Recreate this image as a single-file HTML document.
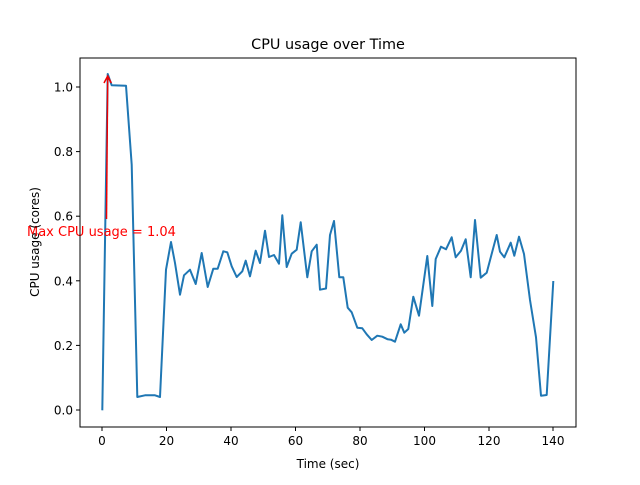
<!DOCTYPE html>
<html><head><style>body{margin:0;background:#fff}</style></head><body>
<svg width="640" height="480" xmlns="http://www.w3.org/2000/svg" font-family="DejaVu Sans, sans-serif">
<rect width="640" height="480" fill="#fff"/>
<text x="328" y="49" font-size="14.4" text-anchor="middle">CPU usage over Time</text>
<polyline fill="none" stroke="#1f77b4" stroke-width="2" stroke-linejoin="round" points="102.3,410.3 107.7,74 111.7,85.3 126,85.7 131.7,164.7 137.3,397 145,395.3 155,395.3 160,397 166,269.7 171,242 175,263 180,294.7 184,275.3 190,269.7 195.7,284 201.7,253 207.7,287 213.3,268.7 217.7,268.7 223.3,251.3 227.3,252.3 231.7,266.3 236.7,277 242.3,271.3 245.7,260.7 250,276.3 255.7,250.7 260,263 265,230.7 269,257 274,255 279,263.7 282.3,215.3 286.7,267 291.7,253.7 296.7,249.7 300.7,222.3 307.3,277.3 311.7,251.3 316.7,244.7 320,289.7 326,288.5 330,235 334,221 339.3,277.3 343.3,277.3 347.7,307.7 351.7,312.3 357.3,327.7 362.3,328.3 366.7,334.3 371.7,340 377.3,335.7 382.3,336.7 387.7,339.3 391,339.7 395,341.7 400.7,324.3 404.3,332.7 408.3,329 413.3,296.7 419,315.7 427.3,256 432.3,306 435.7,259 441,246.7 446,249.3 451.7,237.3 455.7,257.3 461,250.7 465.7,239.3 470.7,277.3 475,220 480.7,277.7 486.7,272.7 496.7,235 500,251.7 504.3,257.3 510.7,242.7 514.3,255.7 519,236.7 524,254 530,300 536,337.3 541,395.7 546.7,395 553.3,281"/>
<line x1="106.5" y1="219" x2="107.7" y2="77" stroke="#e00" stroke-width="1.5"/>
<polyline points="104,83 107.7,76 111.3,83" fill="none" stroke="#e00" stroke-width="1.5"/>
<text x="27" y="236" font-size="13" fill="#f00">Max CPU usage = 1.04</text>
<rect x="80" y="58" width="496" height="369" fill="none" stroke="#000" stroke-width="1"/>
<g font-size="12" text-anchor="middle">
<g stroke="#000"><line x1="102" y1="427" x2="102" y2="431"/><line x1="166.5" y1="427" x2="166.5" y2="431"/><line x1="231" y1="427" x2="231" y2="431"/><line x1="295.5" y1="427" x2="295.5" y2="431"/><line x1="360" y1="427" x2="360" y2="431"/><line x1="424.5" y1="427" x2="424.5" y2="431"/><line x1="489" y1="427" x2="489" y2="431"/><line x1="553" y1="427" x2="553" y2="431"/></g>
<text x="102" y="445">0</text><text x="166.5" y="445">20</text><text x="231" y="445">40</text><text x="295.5" y="445">60</text><text x="360" y="445">80</text><text x="424.5" y="445">100</text><text x="489" y="445">120</text><text x="553" y="445">140</text>
<text x="328" y="468">Time (sec)</text>
</g>
<g font-size="12" text-anchor="end">
<g stroke="#000"><line x1="76" y1="410" x2="80" y2="410"/><line x1="76" y1="345.4" x2="80" y2="345.4"/><line x1="76" y1="280.8" x2="80" y2="280.8"/><line x1="76" y1="216.2" x2="80" y2="216.2"/><line x1="76" y1="151.6" x2="80" y2="151.6"/><line x1="76" y1="87" x2="80" y2="87"/></g>
<text x="73" y="414.5">0.0</text><text x="73" y="349.9">0.2</text><text x="73" y="285.3">0.4</text><text x="73" y="220.7">0.6</text><text x="73" y="156.1">0.8</text><text x="73" y="91.5">1.0</text>
</g>
<text transform="translate(39,242) rotate(-90)" font-size="12" text-anchor="middle">CPU usage (cores)</text>
</svg>
</body></html>
